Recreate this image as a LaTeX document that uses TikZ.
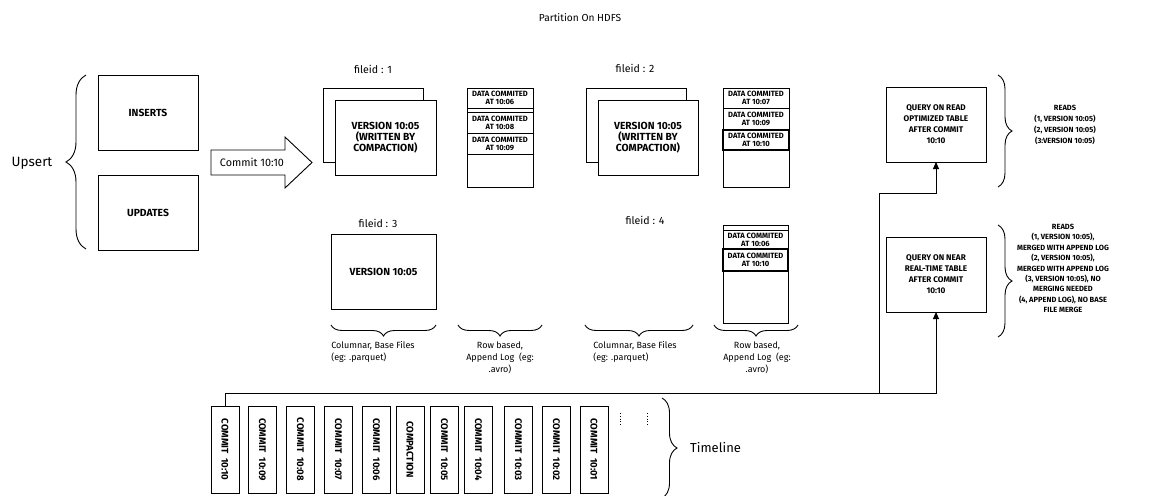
\documentclass[tikz,border=0pt]{standalone}
\usepackage{fontspec}
\setmainfont{Fira Sans}
\usetikzlibrary{arrows.meta,decorations.pathreplacing,calc}
\begin{document}
\begin{tikzpicture}[x=1pt,y=-1pt,
  box/.style={draw, line width=0.9pt, fill=white, inner sep=0pt, outer sep=0pt, align=center, font=\bfseries\fontsize{10.3}{11}\selectfont},
  qbox/.style={box, font=\bfseries\fontsize{8.2}{11}\selectfont},
  logbox/.style={draw, line width=0.9pt, inner sep=0pt, outer sep=0pt, minimum width=66},
  entry/.style={draw, line width=0.9pt, inner sep=0pt, outer sep=0pt, minimum width=66, align=center, font=\bfseries\fontsize{7.6}{8}\selectfont},
  lbl/.style={inner sep=0pt, font=\fontsize{10.6}{13}\selectfont},
  small/.style={inner sep=0pt, font=\fontsize{9}{12}\selectfont},
  reads/.style={inner sep=0pt, align=center, font=\bfseries\fontsize{7.5}{#1}\selectfont},
  brc/.style={decorate, decoration={brace, amplitude=#1}, line width=0.9pt},
  arr/.style={-{Triangle[length=7pt,width=6pt]}, line width=0.9pt},
  cbox/.style={draw, line width=0.9pt, inner sep=0pt, outer sep=0pt, minimum width=28, minimum height=87},
  ctext/.style={rotate=-90, inner sep=0pt, font=\bfseries\fontsize{9.6}{10}\selectfont}
]
\useasboundingbox (0,0) rectangle (1158,495);

% title
\node[inner sep=0pt, font=\fontsize{10.2}{13}\selectfont] (title) at (580,18) {Partition On HDFS};

% upsert
\node[inner sep=0pt, font=\fontsize{13.5}{15}\selectfont] (upsert) at (32,163) {Upsert};
\draw[brc=20] (86,249) -- (86,75);
\node[box, minimum width=100, minimum height=75] (ins) at (148,112.5) {INSERTS};
\node[box, minimum width=100, minimum height=75] (upd) at (148,212.5) {UPDATES};

% commit arrow
\draw[line width=0.9pt] (211,150) -- (285,150) -- (285,137) -- (312,162.5) -- (285,188) -- (285,175) -- (211,175) -- cycle;
\node[inner sep=0pt, font=\fontsize{10.8}{12}\selectfont] (commitlbl) at (252,162.5) {Commit 10:10};

% fileid 1
\node[lbl] (fid1) at (373,69) {fileid : 1};
\node[box, minimum width=100, minimum height=74] (f1b) at (373,125) {};
\node[box, minimum width=101, minimum height=75] (f1) at (385.5,137.5) {VERSION 10:05\\(WRITTEN BY\\COMPACTION)};
\node[logbox, minimum height=99] (log1) at (500,137.5) {};
\node[entry, minimum height=20] (l1a) at (500,98) {DATA COMMITED\\AT 10:06};
\node[entry, minimum height=21] (l1b) at (500,122.5) {DATA COMMITED\\AT 10:08};
\node[entry, minimum height=21] (l1c) at (500,143.5) {DATA COMMITED\\AT 10:09};

% fileid 2
\node[lbl] (fid2) at (635,68) {fileid : 2};
\node[box, minimum width=100, minimum height=74] (f2b) at (636,125) {};
\node[box, minimum width=100, minimum height=75] (f2) at (648,137.5) {VERSION 10:05\\(WRITTEN BY\\COMPACTION)};
\node[logbox, minimum height=99] (log2) at (756,137.5) {};
\node[entry, minimum height=20] (l2a) at (756,98) {DATA COMMITED\\AT 10:07};
\node[entry, minimum height=21] (l2b) at (756,118.5) {DATA COMMITED\\AT 10:09};
\node[entry, minimum height=20, line width=1.3pt] (l2c) at (756,140) {DATA COMMITED\\AT 10:10};

% fileid 3
\node[lbl] (fid3) at (378,223) {fileid : 3};
\node[box, minimum width=105, minimum height=75] (f3) at (383.5,271.5) {VERSION 10:05};

% fileid 4
\node[lbl] (fid4) at (645,220) {fileid : 4};
\node[logbox, minimum width=65, minimum height=98] (log4) at (755.5,274) {};
\node[entry, minimum width=65, minimum height=5] (l4s) at (755.5,227.5) {};
\node[entry, minimum width=65, minimum height=19] (l4a) at (755.5,239.5) {DATA COMMITED\\AT 10:06};
\node[entry, minimum width=65, minimum height=22, line width=1.3pt] (l4b) at (755.5,260) {DATA COMMITED\\AT 10:10};

% bottom braces and labels
\draw[brc=11] (436,325) -- (331,325);
\draw[brc=11] (542,325) -- (458,325);
\draw[brc=11] (693,325) -- (585,325);
\draw[brc=11] (798,325) -- (714,325);
\node[small, align=left] (cb1) at (373,352) {Columnar, Base Files\\(eg: .parquet)};
\node[small, align=center] (rb1) at (500,358) {Row based,\\Append Log\ \ (eg:\\.avro)};
\node[small, align=left] (cb2) at (635,352) {Columnar, Base Files\\(eg: .parquet)};
\node[small, align=center] (rb2) at (757,358) {Row based,\\Append Log\ \ (eg:\\.avro)};

% queries
\node[qbox, minimum width=100, minimum height=75] (q1) at (936,124.5) {QUERY ON READ\\OPTIMIZED TABLE\\AFTER COMMIT\\10:10};
\node[qbox, minimum width=100, minimum height=75] (q2) at (936,274.5) {QUERY ON NEAR\\REAL-TIME TABLE\\AFTER COMMIT\\10:10};
\draw[brc=14] (998,75) -- (998,187);
\draw[brc=14] (998,225) -- (998,337);
\node[reads=11] (r1) at (1065,124.5) {READS\\(1, VERSION 10:05)\\(2, VERSION 10:05)\\(3:VERSION 10:05)};
\node[reads=10.4] (r2) at (1063,268.5) {READS\\(1, VERSION 10:05),\\MERGED WITH APPEND LOG\\(2, VERSION 10:05),\\MERGED WITH APPEND LOG\\(3, VERSION 10:05), NO\\MERGING NEEDED\\(4, APPEND LOG), NO BASE\\FILE MERGE};

% timeline
\node[cbox] (c1) at (225,449.5) {};
\node[ctext] (t1) at (c1) {COMMIT\ \ 10:10};
\node[cbox] (c2) at (262.5,449.5) {};
\node[ctext] (t2) at (c2) {COMMIT\ \ 10:09};
\node[cbox] (c3) at (300.5,449.5) {};
\node[ctext] (t3) at (c3) {COMMIT\ \ 10:08};
\node[cbox] (c4) at (338.5,449.5) {};
\node[ctext] (t4) at (c4) {COMMIT\ \ 10:07};
\node[cbox] (c5) at (376.5,449.5) {};
\node[ctext] (t5) at (c5) {COMMIT\ \ 10:06};
\node[cbox] (c6) at (410,449.5) {};
\node[ctext] (t6) at (c6) {COMPACTION};
\node[cbox] (c7) at (444.5,449.5) {};
\node[ctext] (t7) at (c7) {COMMIT\ \ 10:05};
\node[cbox] (c8) at (478.5,449.5) {};
\node[ctext] (t8) at (c8) {COMMIT\ \ 10:04};
\node[cbox] (c9) at (518.5,449.5) {};
\node[ctext] (t9) at (c9) {COMMIT\ \ 10:03};
\node[cbox] (c10) at (556.5,449.5) {};
\node[ctext] (t10) at (c10) {COMMIT\ \ 10:02};
\node[cbox] (c11) at (594,449.5) {};
\node[ctext] (t11) at (c11) {COMMIT\ \ 10:01};
\draw[dotted, line width=0.8pt] (620,413) -- (620,426);
\draw[dotted, line width=0.8pt] (647,413) -- (647,426);
\draw[brc=15] (662,398) -- (662,498);
\node[inner sep=0pt, anchor=west, font=\fontsize{13}{15}\selectfont] (tl) at (690,448) {Timeline};

% connectors
\coordinate (j) at (879,393);
\coordinate (k) at (879,193);
\draw[arr] (c1.north) |- (q2.south |- j) -- (q2.south);
\draw[arr] (j) -- (k) -| (q1.south);
\end{tikzpicture}
\end{document}
